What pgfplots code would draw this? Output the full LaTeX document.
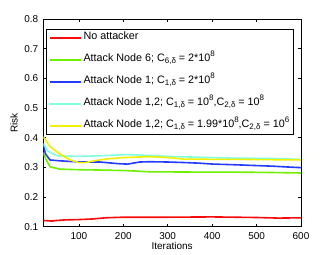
\documentclass[border=0pt]{standalone}
\usepackage{fontspec}
\setmainfont{Liberation Sans}
\usepackage{pgfplots}
\pgfplotsset{compat=1.18}
\definecolor{cred}{RGB}{250,10,10}
\definecolor{cgreen}{RGB}{110,240,0}
\definecolor{cblue}{RGB}{35,60,255}
\definecolor{ccyan}{RGB}{128,255,220}
\definecolor{cyellow}{RGB}{240,240,0}
\newcommand{\sub}[1]{\raisebox{-2.8bp}{\fontsize{8}{8}\selectfont #1}}
\newcommand{\sups}[1]{\raisebox{4.5bp}{\fontsize{8}{8}\selectfont #1}}
\begin{document}
\fontsize{10}{12}\selectfont
\begin{tikzpicture}
\begin{axis}[
  scale only axis, width=257.7bp, height=207.7bp,
  xmin=20, xmax=600, ymin=0.1, ymax=0.8,
  xtick={100,200,300,400,500,600},
  ytick={0.1,0.2,0.3,0.4,0.5,0.6,0.7,0.8},
  yticklabel style={/pgf/number format/fixed,/pgf/number format/precision=1,/pgf/number format/fixed zerofill,xshift=-1.5bp},
  xticklabel style={yshift=-2.2bp},
  /pgf/number format/assume math mode=true,
  tick align=inside, major tick length=3bp,
  axis line style={line width=0.5bp},
  every tick/.style={black,line width=0.5bp},
  xlabel={Iterations}, ylabel={Risk},
  xlabel style={at={(axis description cs:0.5,-0.094)},anchor=center},
  ylabel style={at={(axis description cs:-0.1136,0.5)},anchor=center},
  legend cell align=left,
  legend style={at={(axis description cs:0.0105,0.9505)},anchor=north west,
    draw=black, line width=0.5bp, inner xsep=2.5bp, inner ysep=1bp,
    row sep=7bp, font=\fontsize{10.8}{12}\selectfont,
    nodes={inner sep=2bp, text height=6.5bp, text depth=4.5bp}},
  legend image code/.code={\draw[#1,line width=1.8bp] (0bp,0bp) -- (31bp,0bp);},
  every axis plot/.append style={line width=1.6bp},
]
\addplot[cred] coordinates {(20,0.121)(30,0.120)(40,0.119)(50,0.121)(70,0.123)(100,0.124)(130,0.126)(160,0.130)(200,0.132)(300,0.132)(400,0.133)(450,0.132)(500,0.131)(550,0.129)(600,0.130)};
\addlegendentry{No attacker}
\addplot[cgreen] coordinates {(20,0.35)(25,0.33)(35,0.302)(57,0.294)(100,0.292)(147,0.291)(207,0.289)(260,0.285)(372,0.284)(450,0.284)(520,0.283)(600,0.281)};
\addlegendentry{Attack Node 6; C\sub{6,δ} = 2*10\sups{8}}
\addplot[cblue] coordinates {(20,0.375)(25,0.345)(35,0.325)(57,0.322)(80,0.320)(102,0.318)(147,0.318)(192,0.312)(210,0.311)(237,0.318)(260,0.319)(300,0.318)(342,0.316)(372,0.314)(402,0.311)(447,0.309)(500,0.306)(536,0.304)(560,0.302)(600,0.299)};
\addlegendentry{Attack Node 1; C\sub{1,δ} = 2*10\sups{8}}
\addplot[ccyan] coordinates {(20,0.38)(30,0.355)(46,0.342)(57,0.338)(102,0.337)(147,0.339)(207,0.343)(260,0.340)(300,0.337)(372,0.334)(450,0.331)(536,0.330)(600,0.327)};
\addlegendentry{Attack Node 1,2; C\sub{1,δ} = 10\sups{8},C\sub{2,δ} = 10\sups{8}}
\addplot[cyellow] coordinates {(20,0.403)(35,0.37)(57,0.345)(80,0.325)(100,0.316)(115,0.316)(135,0.322)(160,0.328)(200,0.333)(260,0.336)(300,0.333)(335,0.328)(400,0.327)(450,0.327)(520,0.326)(600,0.325)};
\addlegendentry{Attack Node 1,2; C\sub{1,δ} = 1.99*10\sups{8},C\sub{2,δ} = 10\sups{6}}
\end{axis}
\path (current axis.south west) ++(-43.3bp,-28.3bp) rectangle ++(332bp,255bp);
\end{tikzpicture}
\end{document}
